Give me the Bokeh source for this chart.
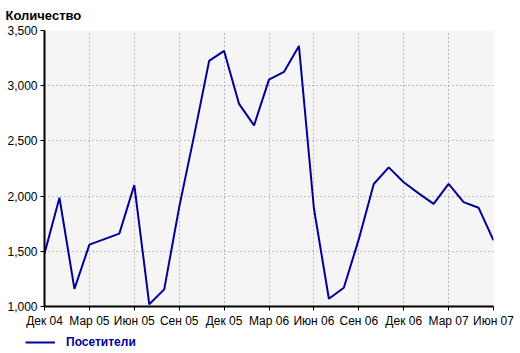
from bokeh.plotting import figure
from bokeh.layouts import column
from bokeh.models import FixedTicker, NumeralTickFormatter, Legend, LegendItem, Range1d
from bokeh.embed import file_html
from bokeh.resources import INLINE

# monthly data, Dec 2004 .. Jun 2007
month_index = list(range(31))
visitors = [1480, 1985, 1160, 1560, 1610, 1660, 2100, 1020, 1155, 1900,
            2550, 3225, 3315, 2835, 2640, 3055, 3125, 3360, 1890, 1070,
            1170, 1610, 2110, 2260, 2125, 2025, 1930, 2110, 1945, 1895, 1600]
tick_positions = [0, 3, 6, 9, 12, 15, 18, 21, 24, 27, 30]
tick_labels = ["Дек 04", "Мар 05", "Июн 05", "Сен 05", "Дек 05", "Мар 06",
               "Июн 06", "Сен 06", "Дек 06", "Мар 07", "Июн 07"]
y_ticks = [1000, 1500, 2000, 2500, 3000, 3500]
series_name = "Посетители"
y_title = "Количество"

FONT = "Liberation Sans"
NAVY = "#000099"

p = figure(frame_width=449, frame_height=276, output_backend="svg", toolbar_location=None,
           x_range=Range1d(0, 30), y_range=Range1d(1000, 3500),
           min_border_left=44, min_border_right=27, min_border_top=30,
           min_border_bottom=24, title=y_title)

p.background_fill_color = "#f5f5f5"
p.border_fill_color = "white"
p.outline_line_color = None

p.title.text_font = FONT
p.title.text_font_size = "13px"
p.title.text_font_style = "bold"
p.title.text_color = "black"
p.title.align = "left"
p.title.offset = -39
p.title.standoff = 12
p.title.vertical_align = "top"

r = p.line(month_index, visitors, line_color=NAVY, line_width=2)

for ax in (p.xaxis[0], p.yaxis[0]):
    ax.axis_line_width = 2
    ax.axis_line_color = "black"
    ax.major_tick_line_color = "black"
    ax.major_tick_out = 4
    ax.major_tick_in = 0
    ax.minor_tick_line_color = None
    ax.major_label_text_font = FONT
    ax.major_label_text_font_size = "12px"
    ax.major_label_text_color = "black"
    ax.major_label_standoff = 3

p.xaxis.ticker = FixedTicker(ticks=tick_positions)
p.xaxis.major_label_overrides = {t: l for t, l in zip(tick_positions, tick_labels)}
p.yaxis.ticker = FixedTicker(ticks=y_ticks)
p.yaxis.formatter = NumeralTickFormatter(format="0,0")

for g in (p.xgrid[0], p.ygrid[0]):
    g.grid_line_color = "#808080"
    g.grid_line_dash = "1 3"
    g.grid_line_width = 1

# legend strip below the chart (separate small figure so it is not clipped)
leg = figure(frame_width=520, frame_height=23, output_backend="svg", toolbar_location=None,
             x_range=Range1d(100, 200), y_range=Range1d(0, 1),
             min_border=0, min_border_left=0, min_border_right=0,
             min_border_top=0, min_border_bottom=0)
leg.axis.visible = False
leg.grid.visible = False
leg.outline_line_color = None
leg.background_fill_color = "white"
leg.border_fill_color = "white"
r2 = leg.line(month_index, visitors, line_color=NAVY, line_width=2)

legend = Legend(items=[LegendItem(label=series_name, renderers=[r2])],
                location=(25, 1), orientation="horizontal",
                padding=0, margin=0, border_line_color=None,
                background_fill_alpha=0, glyph_width=30, glyph_height=20,
                label_standoff=11, label_text_font=FONT,
                label_text_font_size="12px", label_text_font_style="bold",
                label_text_color=NAVY)
leg.add_layout(legend, "center")

layout = column(p, leg, spacing=0)
open("out.html", "w").write(file_html(layout, INLINE))
